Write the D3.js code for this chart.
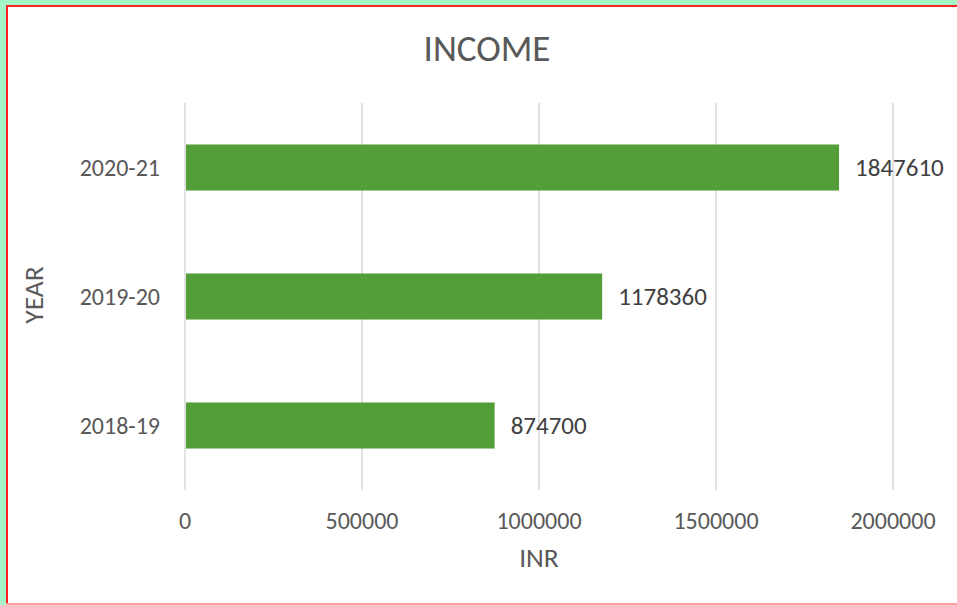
<!DOCTYPE html>
<html><head><meta charset="utf-8">
<script src="https://cdn.jsdelivr.net/npm/d3@7"></script>
<style>
html,body{margin:0;padding:0;background:#a3f5c8;}
svg{display:block;}
</style></head>
<body>
<svg id="chart" width="957" height="605"></svg>
<script>
const categories = ["2018-19", "2019-20", "2020-21"];
const values = [874700, 1178360, 1847610];
const xTicks = [0, 500000, 1000000, 1500000, 2000000];
const title = "INCOME";
const xTitle = "INR";
const yTitle = "YEAR";

const W = 957, H = 605;
const font = "Carlito, Calibri, Lato, sans-serif";
const svg = d3.select("#chart");

// card background with borders
svg.append("rect").attr("x", 6).attr("y", 5).attr("width", W - 6).attr("height", H - 5).attr("fill", "#ffffff");
svg.append("line").attr("x1", 6).attr("x2", W).attr("y1", 6).attr("y2", 6).attr("stroke", "#ff2020").attr("stroke-width", 2);
svg.append("line").attr("x1", 7).attr("x2", 7).attr("y1", 5).attr("y2", H).attr("stroke", "#ff2020").attr("stroke-width", 2);
svg.append("line").attr("x1", 6).attr("x2", W).attr("y1", 604).attr("y2", 604).attr("stroke", "#ffa0a0").attr("stroke-width", 2);

const plot = {left: 185, right: 893, top: 103, bottom: 490};
const x = d3.scaleLinear().domain([0, 2000000]).range([plot.left, plot.right]);
const y = d3.scaleBand().domain(categories.slice().reverse()).range([plot.top, plot.bottom]).paddingInner(0.643).paddingOuter(0.3215);

// gridlines
svg.append("g").selectAll("line").data(xTicks).join("line")
  .attr("x1", d => x(d)).attr("x2", d => x(d))
  .attr("y1", plot.top).attr("y2", plot.bottom)
  .attr("stroke", "#d9d9d9").attr("stroke-width", 1.5);

// bars
svg.append("g").selectAll("rect").data(categories).join("rect")
  .attr("x", x(0) + 1)
  .attr("y", d => y(d))
  .attr("width", (d, i) => x(values[i]) - x(0) - 1)
  .attr("height", y.bandwidth())
  .attr("fill", "#549e39");

// value labels
svg.append("g").selectAll("text").data(categories).join("text")
  .attr("x", (d, i) => x(values[i]) + 16)
  .attr("y", d => y(d) + y.bandwidth() / 2)
  .attr("dy", "0.35em")
  .attr("font-family", font).attr("font-size", 25).attr("fill", "#404040")
  .text((d, i) => values[i]);

// x tick labels
svg.append("g").selectAll("text").data(xTicks).join("text")
  .attr("x", d => x(d)).attr("y", 521).attr("dy", "0.35em")
  .attr("text-anchor", "middle")
  .attr("font-family", font).attr("font-size", 24).attr("fill", "#595959")
  .text(d => d);

// y tick labels
svg.append("g").selectAll("text").data(categories).join("text")
  .attr("x", 160).attr("y", d => y(d) + y.bandwidth() / 2).attr("dy", "0.35em")
  .attr("text-anchor", "end")
  .attr("font-family", font).attr("font-size", 24).attr("fill", "#595959")
  .text(d => d);

// title
svg.append("text").attr("x", 487).attr("y", 48).attr("dy", "0.35em")
  .attr("text-anchor", "middle").attr("font-family", font).attr("font-size", 37)
  .attr("fill", "#595959").text(title);

// axis titles
svg.append("text").attr("x", 539).attr("y", 557).attr("dy", "0.35em")
  .attr("text-anchor", "middle").attr("font-family", font).attr("font-size", 27.5)
  .attr("fill", "#595959").text(xTitle);

svg.append("text").attr("transform", "translate(33,295) rotate(-90)").attr("dy", "0.35em")
  .attr("text-anchor", "middle").attr("font-family", font).attr("font-size", 27.5)
  .attr("fill", "#595959").text(yTitle);
</script>
</body></html>
